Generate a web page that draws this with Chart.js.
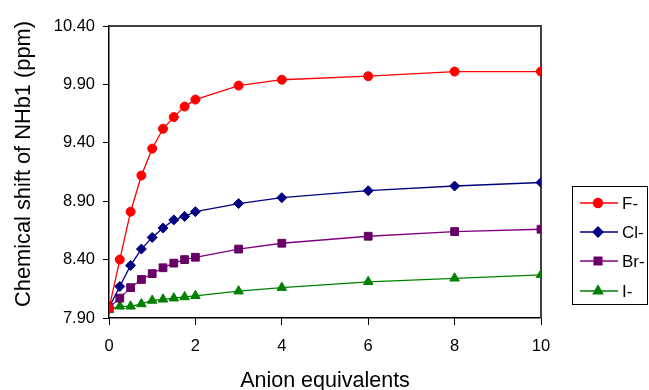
<!DOCTYPE html>
<html>
<head>
<meta charset="utf-8">
<script src="https://cdn.jsdelivr.net/npm/chart.js@4.4.0/dist/chart.umd.min.js"></script>
<style>
  html, body { margin: 0; padding: 0; background: #fff; overflow: hidden; }
  #wrap { width: 649px; height: 390px; }
</style>
</head>
<body>
<div id="wrap"><canvas id="nmrChart" width="649" height="390"></canvas></div>
<script>
// Data
const equivalents = [0, 0.25, 0.5, 0.75, 1, 1.25, 1.5, 1.75, 2, 3, 4, 6, 8, 10];
const shiftF  = [7.98, 8.40, 8.81, 9.12, 9.35, 9.52, 9.62, 9.71, 9.77, 9.89, 9.94, 9.97, 10.01, 10.01];
const shiftCl = [7.99, 8.17, 8.35, 8.49, 8.59, 8.67, 8.74, 8.77, 8.81, 8.88, 8.93, 8.99, 9.03, 9.06];
const shiftBr = [7.99, 8.07, 8.16, 8.23, 8.28, 8.33, 8.37, 8.40, 8.42, 8.49, 8.54, 8.60, 8.64, 8.66];
const shiftI  = [7.97, 8.00, 8.00, 8.02, 8.05, 8.06, 8.07, 8.08, 8.09, 8.13, 8.16, 8.21, 8.24, 8.27];
const anionLabels = ['F-', 'Cl-', 'Br-', 'I-'];
const yTicks = [7.90, 8.40, 8.90, 9.40, 9.90, 10.40];
const xTicks = [0, 2, 4, 6, 8, 10];

const FONT = "'Liberation Sans', Arial, sans-serif";
const Y_TITLE = 'Chemical shift of NHb1 (ppm)';

function toPoints(values) {
    return equivalents.map(function(x, i) { return { x: x, y: values[i] }; });
}

const series = [
    { label: anionLabels[0], data: shiftF,  line: '#ff0000', fill: '#ff0000', style: 'circle',   r: 4.5 },
    { label: anionLabels[1], data: shiftCl, line: '#000080', fill: '#000080', style: 'rectRot',  r: 5 },
    { label: anionLabels[2], data: shiftBr, line: '#800080', fill: '#660066', style: 'rect',     r: 5.5 },
    { label: anionLabels[3], data: shiftI,  line: '#008000', fill: '#008000', style: 'triangle', r: 5.5 }
];

// plot frame, y title and legend box
const frameAndLegend = {
    id: 'frameAndLegend',
    beforeDatasetsDraw(chart) {
        const a = chart.chartArea;
        const ctx = chart.ctx;
        ctx.save();
        ctx.strokeStyle = '#404040';
        ctx.lineWidth = 2;
        ctx.beginPath();
        ctx.moveTo(a.left, a.top);
        ctx.lineTo(a.right, a.top);
        ctx.lineTo(a.right, a.bottom);
        ctx.stroke();

        // y axis title, Excel puts it a little above the plot centre
        ctx.translate(24, 164);
        ctx.rotate(-Math.PI / 2);
        ctx.fillStyle = '#000';
        ctx.font = '21.8px ' + FONT;
        ctx.textAlign = 'center';
        ctx.textBaseline = 'middle';
        ctx.fillText(Y_TITLE, 0, 0);
        ctx.restore();
    },
    afterDraw(chart) {
        const ctx = chart.ctx;
        ctx.save();
        ctx.strokeStyle = '#000';
        ctx.lineWidth = 1;
        ctx.strokeRect(572.5, 186.5, 75, 118);
        const rows = [203, 232, 261, 291];
        chart.data.datasets.forEach(function(ds, i) {
            const y = rows[i];
            ctx.strokeStyle = ds.borderColor;
            ctx.lineWidth = 1.3;
            ctx.beginPath();
            ctx.moveTo(580, y);
            ctx.lineTo(618, y);
            ctx.stroke();
            Chart.helpers.drawPoint(ctx, {
                pointStyle: ds.pointStyle,
                radius: ds.pointRadius,
                borderWidth: 1
            }, 598, y);
            ctx.fillStyle = ds.pointBackgroundColor;
            ctx.strokeStyle = ds.pointBorderColor;
            ctx.fill();
            ctx.fillStyle = '#000';
            ctx.font = '17px ' + FONT;
            ctx.textBaseline = 'middle';
            ctx.textAlign = 'left';
            ctx.fillText(ds.label, 622, y + 1);
        });
        ctx.restore();
    }
};

const ctx = document.getElementById('nmrChart').getContext('2d');
new Chart(ctx, {
    type: 'line',
    data: {
        datasets: series.map(function(s) {
            return {
                label: s.label,
                data: toPoints(s.data),
                borderColor: s.line,
                borderWidth: 1.3,
                pointStyle: s.style,
                pointRadius: s.r,
                pointBackgroundColor: s.fill,
                pointBorderColor: s.fill,
                pointBorderWidth: 1,
                tension: 0,
                fill: false
            };
        })
    },
    options: {
        responsive: false,
        animation: false,
        devicePixelRatio: 1,
        layout: { padding: { top: 26, right: 108, bottom: 0, left: 0 } },
        plugins: {
            legend: { display: false },
            tooltip: { enabled: false }
        },
        scales: {
            x: {
                type: 'linear',
                min: 0,
                max: 10,
                afterBuildTicks: function(scale) {
                    scale.ticks = xTicks.map(function(v) { return { value: v }; });
                },
                afterFit: function(scale) { scale.height = 72; },
                ticks: {
                    color: '#000',
                    padding: 12,
                    font: { family: FONT, size: 16.5 },
                    maxRotation: 0
                },
                grid: {
                    drawOnChartArea: false,
                    drawTicks: true,
                    tickLength: 7,
                    color: '#000'
                },
                border: { color: '#000', width: 1.5 },
                title: {
                    display: true,
                    text: 'Anion equivalents',
                    color: '#000',
                    font: { family: FONT, size: 21.5, lineHeight: 1 },
                    padding: { top: 0, bottom: -2 }
                }
            },
            y: {
                type: 'linear',
                min: 7.9,
                max: 10.4,
                afterBuildTicks: function(scale) {
                    scale.ticks = yTicks.map(function(v) { return { value: v }; });
                },
                afterFit: function(scale) { scale.width = 109; },
                ticks: {
                    color: '#000',
                    padding: 8,
                    font: { family: FONT, size: 16.5 },
                    callback: function(v) { return v.toFixed(2); }
                },
                grid: {
                    drawOnChartArea: false,
                    drawTicks: true,
                    tickLength: 6,
                    color: '#000'
                },
                border: { color: '#000', width: 1.5 },
                title: { display: false }
            }
        }
    },
    plugins: [frameAndLegend]
});
</script>
</body>
</html>
